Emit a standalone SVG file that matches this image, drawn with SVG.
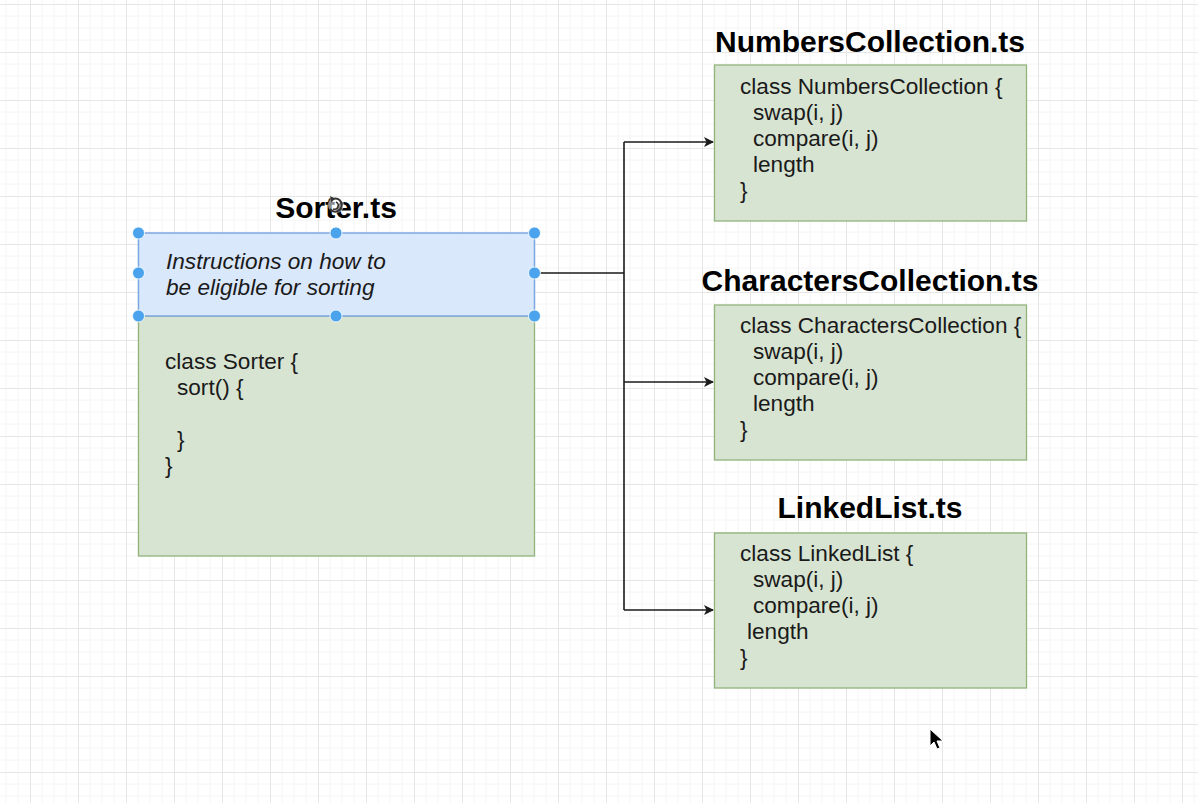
<svg xmlns="http://www.w3.org/2000/svg" width="1198" height="803" viewBox="0 0 1198 803">
  <style>
    .title { font-family: "Liberation Sans", Arial, sans-serif; font-weight: bold; font-size: 30px; fill: #000; text-anchor: middle; }
    .code { font-family: "Liberation Sans", Arial, sans-serif; font-size: 22.6px; fill: #1a1a1a; }
    .note { font-family: "Liberation Sans", Arial, sans-serif; font-size: 22.6px; font-style: italic; fill: #1a1a1a; }
    .green { fill: #d8e4d2; stroke: #93b37c; stroke-width: 1.3; }
    .blue { fill: #dae8fc; stroke: #7ea6e0; stroke-width: 1.5; }
    .conn { fill: none; stroke: #1a1a1a; stroke-width: 1.6; }
    .handle { fill: #4aa3ec; stroke: #ffffff; stroke-width: 0.8; }
  </style>
  <defs>
    <pattern id="grid" x="30" y="4" width="48" height="48" patternUnits="userSpaceOnUse">
      <path d="M12 0V48M24 0V48M36 0V48M0 12H48M0 24H48M0 36H48" stroke="#f4f4f4" stroke-width="1" fill="none"/>
      <path d="M0.5 0V48M0 0.5H48" stroke="#e6e6e6" stroke-width="1" fill="none"/>
    </pattern>
    <marker id="arrow" viewBox="0 0 10 10" refX="9" refY="5" markerWidth="10" markerHeight="10" markerUnits="userSpaceOnUse" orient="auto">
      <path d="M0 0L10 5L0 10L2.5 5Z" fill="#1a1a1a"/>
    </marker>
  </defs>

  <rect x="0" y="0" width="1198" height="803" fill="#ffffff"/>
  <rect x="0" y="0" width="1198" height="803" fill="url(#grid)"/>

  <g id="connectors">
    <path class="conn" d="M540 273H624"/>
    <path class="conn" d="M624 142V610"/>
    <path class="conn" d="M624 142H713" marker-end="url(#arrow)"/>
    <path class="conn" d="M624 382H713" marker-end="url(#arrow)"/>
    <path class="conn" d="M624 610H713" marker-end="url(#arrow)"/>
  </g>

  <g id="sorter">
    <rect class="green" x="138.5" y="316" width="396" height="240"/>
    <text class="code" x="165" y="369">class Sorter {</text>
    <text class="code" x="177" y="395">sort() {</text>
    <text class="code" x="177" y="447">}</text>
    <text class="code" x="165" y="473">}</text>
  </g>

  <g id="sorter-interface">
    <rect class="blue" x="138.5" y="233" width="396" height="83"/>
    <text class="note" x="166" y="269">Instructions on how to</text>
    <text class="note" x="166" y="295">be eligible for sorting</text>
    <circle class="handle" cx="138.5" cy="233" r="6"/>
    <circle class="handle" cx="336" cy="233" r="6"/>
    <circle class="handle" cx="534.5" cy="233" r="6"/>
    <circle class="handle" cx="138.5" cy="273" r="6"/>
    <circle class="handle" cx="534.5" cy="273" r="6"/>
    <circle class="handle" cx="138.5" cy="316" r="6"/>
    <circle class="handle" cx="336" cy="316" r="6"/>
    <circle class="handle" cx="534.5" cy="316" r="6"/>
  </g>

  <g id="sorter-title">
    <text class="title" x="336" y="218">Sorter.ts</text>
    <g id="rotate-icon">
      <circle cx="336" cy="205" r="8" fill="#ffffff" opacity="0.55"/>
      <path d="M330 209A6.5 6.5 0 1 0 333 199" fill="none" stroke="#333" stroke-width="2.2"/>
      <path d="M330 196L335 198.5L331.5 202.5Z" fill="#333"/>
      <path d="M333 209A3 3 0 1 0 336 202" fill="none" stroke="#333" stroke-width="1.5"/>
    </g>
  </g>

  <g id="numbers-collection">
    <text class="title" x="870" y="52">NumbersCollection.ts</text>
    <rect class="green" x="714.5" y="65" width="312" height="156"/>
    <text class="code" x="740" y="93.5">class NumbersCollection {</text>
    <text class="code" x="753" y="119.5">swap(i, j)</text>
    <text class="code" x="753" y="145.5">compare(i, j)</text>
    <text class="code" x="753" y="171.5">length</text>
    <text class="code" x="740" y="197.5">}</text>
  </g>

  <g id="characters-collection">
    <text class="title" x="870" y="291">CharactersCollection.ts</text>
    <rect class="green" x="714.5" y="305" width="312" height="155"/>
    <text class="code" x="740" y="333">class CharactersCollection {</text>
    <text class="code" x="753" y="359">swap(i, j)</text>
    <text class="code" x="753" y="385">compare(i, j)</text>
    <text class="code" x="753" y="411">length</text>
    <text class="code" x="740" y="437">}</text>
  </g>

  <g id="linked-list">
    <text class="title" x="870" y="518">LinkedList.ts</text>
    <rect class="green" x="714.5" y="533" width="312" height="155"/>
    <text class="code" x="740" y="561">class LinkedList {</text>
    <text class="code" x="753" y="587">swap(i, j)</text>
    <text class="code" x="753" y="613">compare(i, j)</text>
    <text class="code" x="747" y="639">length</text>
    <text class="code" x="740" y="665">}</text>
  </g>

  <g id="mouse-cursor">
    <path d="M930 729L930 746L934 742L937 749L940 748L937 741L943 741Z" fill="#000" stroke="#fff" stroke-width="1"/>
  </g>
</svg>
